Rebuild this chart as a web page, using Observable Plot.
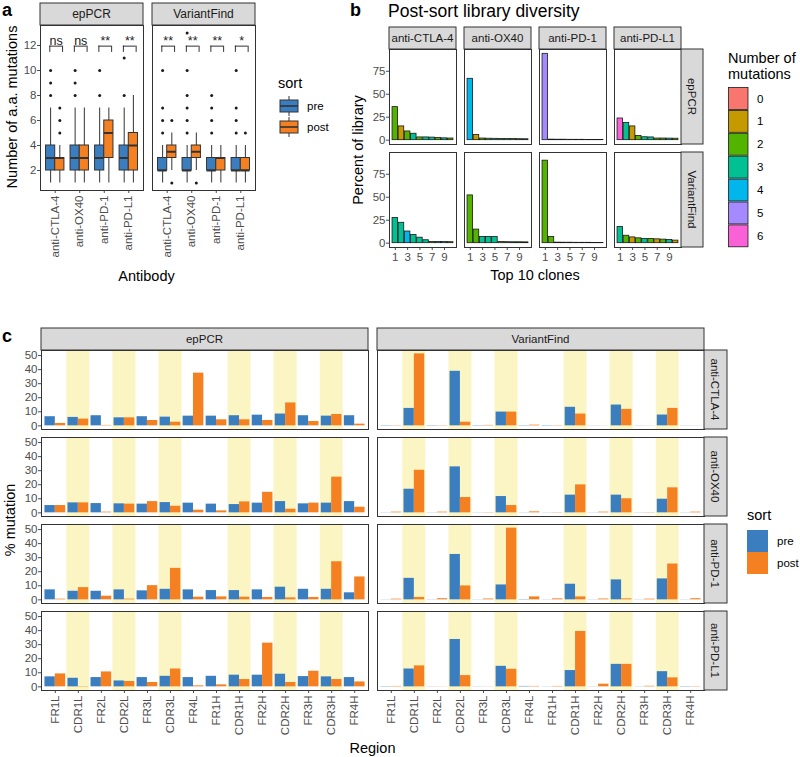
<!DOCTYPE html>
<html><head><meta charset="utf-8">
<script src="https://cdn.jsdelivr.net/npm/d3@7"></script>
<script src="https://cdn.jsdelivr.net/npm/@observablehq/plot@0.6"></script>
<style>
body{margin:0;background:#fff;}
#fig{position:relative;width:800px;height:757px;overflow:hidden;background:#fff;font-family:"Liberation Sans",Arial,Helvetica,sans-serif;}
</style></head><body><div id="fig"></div><script>
const FONT = '"Liberation Sans", Arial, Helvetica, sans-serif';

// ---------- shared ----------
const methods = ["epPCR", "VariantFind"];
const antibodies = ["anti-CTLA-4", "anti-OX40", "anti-PD-1", "anti-PD-L1"];
const sortLevels = ["pre", "post"];
const sortColors = ["#3B7EC0", "#F58021"];

// ---------- panel a : box statistics (order: method > antibody > pre,post) ----------
const boxLo  = [1,1, 1,1, 1,1, 1,1,   1,2,   1,2,   1,1, 1,1];
const boxQ1  = [2,2, 2,2, 2,3, 2,2,   2,3,   2,3,   2,2, 2,2];
const boxMed = [3,3, 3,3, 3,5, 3,4,   2,3.5, 2,3.5, 2,3, 2,2];
const boxQ3  = [4,3, 4,4, 4,6, 4,5,   3,4,   3,4,   3,3, 3,3];
const boxHi  = [7,4, 7,7, 7,7, 7,8,   4,5,   4,5,   4,4, 4,4];
const boxOutliers = [
  [8,9,10], [5,6,7], [8,9,10], [], [8,10], [], [8,11], [],
  [5,6,7,10], [1,6], [5,6,7,8,10,13], [1], [5,6,7,8], [], [5,6,7,10], [5]
];
const sigLabels = ["ns", "ns", "**", "**", "**", "**", "**", "*"];

// ---------- panel b : top-10 clones ----------
const cloneRanks = [1,2,3,4,5,6,7,8,9,10];
const divPct_epPCR = [
  [36, 15, 9.5, 7, 3, 3, 2.8, 2.5, 2, 1.8],
  [66.8, 5.7, 1.8, 1.6, 1.5, 1.4, 1.3, 1.2, 1.1, 1],
  [94, 0.6, 0.5, 0.5, 0.4, 0.4, 0.4, 0.3, 0.3, 0.3],
  [23.6, 18.6, 15, 4.6, 3.2, 3, 1.8, 1.8, 1.7, 1.6]
];
const divPct_VariantFind = [
  [27.5, 22.2, 12.7, 8.8, 6, 3.2, 1.4, 1.3, 1.2, 1.1],
  [52, 14.8, 6.7, 6.7, 6.7, 1.2, 1.1, 1, 1, 0.9],
  [89.8, 6.7, 0.6, 0.5, 0.5, 0.4, 0.4, 0.4, 0.3, 0.3],
  [17.6, 8.1, 6.3, 5.3, 4.6, 4.6, 4.2, 3.9, 3.5, 2.8]
];
const divMut_epPCR = [
  [2,1,2,3,2,3,3,2,3,2],
  [4,1,2,2,3,2,3,2,2,3],
  [5,2,3,2,4,3,2,3,2,2],
  [6,3,1,2,3,3,2,2,3,2]
];
const divMut_VariantFind = [
  [3,3,4,3,3,3,2,3,3,2],
  [2,2,3,3,3,2,2,3,2,2],
  [2,2,2,3,2,2,3,2,2,2],
  [3,2,1,2,3,2,1,2,3,1]
];
const mutLevels = [0,1,2,3,4,5,6];
const mutColors = ["#F8766D", "#C49A00", "#53B400", "#00C094", "#00B6EB", "#A58AFF", "#FB61D7"];

// ---------- panel c : % mutation by region ----------
const regions = ["FR1L","CDR1L","FR2L","CDR2L","FR3L","CDR3L","FR4L","FR1H","CDR1H","FR2H","CDR2H","FR3H","CDR3H","FR4H"];
const mutPre_epPCR = [
  [6.5,6.0,7.2,5.7,6.5,6.2,6.9,6.9,7.2,7.6,8.4,7.2,6.9,7.2],
  [5.2,7.1,6.6,6.4,6.2,7.3,6.9,6.2,5.9,6.9,8.0,6.4,6.9,8.0],
  [7.1,6.1,6.1,7.1,6.4,7.5,7.1,6.6,6.6,7.1,9.0,7.5,7.5,5.0],
  [7.1,6.1,6.6,4.2,6.6,7.5,6.6,7.5,8.3,8.3,9.0,7.3,7.1,6.6]
];
const mutPost_epPCR = [
  [1.7,4.8,0.3,5.7,3.8,2.6,37.5,4.3,4.3,3.8,16.3,3.1,8.1,1.2],
  [5.2,7.1,0.5,6.2,8.0,4.7,1.9,1.4,7.8,14.6,2.6,6.9,25.4,4.0],
  [0.5,8.7,2.6,0.5,10.1,22.4,1.9,2.1,1.9,1.7,1.4,1.7,27.1,16.3],
  [9.2,0.2,10.6,3.8,3.1,12.7,0.7,1.4,5.2,31.1,3.1,11.1,5.2,3.5]
];
const mutPre_VariantFind = [
  [0.2,12.4,0.2,38.8,0.2,9.8,0.2,0.2,13.2,0.1,14.8,0.1,7.7,0.1],
  [0.1,16.8,0.1,32.7,0.1,11.6,0.1,0.1,12.6,0.1,12.6,0.1,9.7,0.1],
  [0.1,15.3,0.1,32.3,0.1,10.6,0.2,0.1,11.1,0.1,14.2,0.1,14.9,0.1],
  [0.2,12.7,0.1,33.7,0.1,14.6,0.3,0.1,11.6,0.1,16.0,0.1,10.8,0.2]
];
const mutPost_VariantFind = [
  [0.2,51.2,0.2,2.6,0.3,9.8,0.5,0.2,8.4,0.1,11.7,0.1,12.4,0.1],
  [0.5,30.3,0.5,10.9,0.2,5.2,0.7,0.2,19.9,0.5,10.0,0.2,17.8,0.5],
  [0.5,1.7,0.8,9.9,0.6,51.0,2.1,0.7,2.1,0.6,0.7,0.5,25.5,0.8],
  [0.3,14.9,0.1,8.0,0.1,12.5,0.3,0.3,39.4,1.9,16.0,0.4,6.4,0.2]
];

// ---------- build tables ----------
const boxes = [], outliers = [];
methods.forEach((m, mi) => antibodies.forEach((ab, ai) => sortLevels.forEach((s, si) => {
  const k = mi * 8 + ai * 2 + si;
  boxes.push({method: m, ab, ai: ai + 1, sort: s, si, lo: boxLo[k], q1: boxQ1[k], med: boxMed[k], q3: boxQ3[k], hi: boxHi[k]});
  boxOutliers[k].forEach(v => outliers.push({method: m, ai: ai + 1, si, v}));
})));
const sigRows = methods.flatMap((m, mi) => antibodies.map((ab, ai) => ({method: m, ai: ai + 1, label: sigLabels[mi * 4 + ai]})));

const divTables = {epPCR: [divPct_epPCR, divMut_epPCR], VariantFind: [divPct_VariantFind, divMut_VariantFind]};
const divRows = [];
methods.forEach(m => antibodies.forEach((ab, ai) => cloneRanks.forEach((r, ri) => {
  divRows.push({method: m, ab, rank: r, pct: divTables[m][0][ai][ri], mut: divTables[m][1][ai][ri]});
})));

const mutTables = {epPCR: [mutPre_epPCR, mutPost_epPCR], VariantFind: [mutPre_VariantFind, mutPost_VariantFind]};
const cRows = [];
methods.forEach(m => antibodies.forEach((ab, ai) => sortLevels.forEach((s, si) => regions.forEach((reg, ri) => {
  cRows.push({method: m, ab, sort: s, si, region: reg, ri: ri + 1, val: mutTables[m][si][ai][ri]});
}))));
const cdrBg = regions.map((r, i) => ({region: r, ri: i + 1})).filter(d => d.region.startsWith("CDR"));

// ---------- helpers ----------
const fig = document.getElementById("fig");
function place(node, left, top) {
  node.style.position = "absolute"; node.style.left = left + "px"; node.style.top = top + "px";
  node.style.maxWidth = "none";
  fig.appendChild(node); return node;
}
const baseStyle = {fontFamily: FONT, fontSize: "11.5px", color: "#4D4D4D", background: "transparent", overflow: "visible"};
const STRIP_FILL = "#D9D9D9", STRIP_STROKE = "#333333", FRAME = "#333333";

function addTopStrips(chart, y, h, fs) {
  const fx = chart.scale("fx");
  const g = d3.select(chart).append("g");
  for (const k of fx.domain) {
    const x = fx.apply(k);
    g.append("rect").attr("x", x).attr("y", y).attr("width", fx.bandwidth).attr("height", h)
      .attr("fill", STRIP_FILL).attr("stroke", STRIP_STROKE).attr("stroke-width", 1);
    g.append("text").attr("x", x + fx.bandwidth / 2).attr("y", y + h / 2).attr("dy", "0.35em")
      .attr("text-anchor", "middle").attr("font-family", FONT).attr("font-size", fs).attr("fill", "#1A1A1A").text(k);
  }
}
function addRightStrips(chart, h, fs) {
  const fx = chart.scale("fx"), fy = chart.scale("fy");
  const xr = fx.apply(fx.domain[fx.domain.length - 1]) + fx.bandwidth;
  const g = d3.select(chart).append("g");
  for (const k of fy.domain) {
    const y = fy.apply(k);
    g.append("rect").attr("x", xr).attr("y", y).attr("width", h).attr("height", fy.bandwidth)
      .attr("fill", STRIP_FILL).attr("stroke", STRIP_STROKE).attr("stroke-width", 1);
    g.append("text").attr("transform", `translate(${xr + h / 2},${y + fy.bandwidth / 2}) rotate(90)`).attr("dy", "0.35em")
      .attr("text-anchor", "middle").attr("font-family", FONT).attr("font-size", fs).attr("fill", "#1A1A1A").text(k);
  }
}

// ---------- panel a ----------
const dodgeW = 0.375;
const bCenter = d => d.ai + (d.si - 0.5) * dodgeW;
const bLeft = d => d.ai + (d.si - 1) * dodgeW;
const bRight = d => d.ai + d.si * dodgeW;
const sigY = 11.95, sigDrop = 0.5, sigL = -0.22, sigR = 0.3;
const chartA = Plot.plot({
  width: 270, height: 290, marginTop: 25, marginBottom: 100, marginLeft: 40, marginRight: 15,
  style: baseStyle,
  fx: {domain: methods, paddingInner: 0.0804, paddingOuter: 0, axis: null, label: null},
  x: {domain: [0.4, 4.6], ticks: [1, 2, 3, 4], tickFormat: d => antibodies[d - 1], tickRotate: -90, tickSize: 3, tickPadding: 2, label: null},
  y: {domain: [0.4, 13.6], ticks: [2, 4, 6, 8, 10, 12], tickSize: 3, tickPadding: 1, label: null},
  color: {domain: sortLevels, range: sortColors},
  marks: [
    Plot.frame({stroke: FRAME, strokeWidth: 1}),
    Plot.ruleX(boxes, {fx: "method", x: bCenter, y1: "lo", y2: "q1", stroke: "#333", strokeWidth: 1}),
    Plot.ruleX(boxes, {fx: "method", x: bCenter, y1: "q3", y2: "hi", stroke: "#333", strokeWidth: 1}),
    Plot.rect(boxes, {fx: "method", x1: bLeft, x2: bRight, y1: "q1", y2: "q3", fill: "sort", stroke: "#333", strokeWidth: 1}),
    Plot.ruleY(boxes, {fx: "method", y: "med", x1: bLeft, x2: bRight, stroke: "#333", strokeWidth: 2}),
    Plot.dot(outliers, {fx: "method", x: bCenter, y: "v", r: 1.5, fill: "#1a1a1a", stroke: "none"}),
    Plot.ruleY(sigRows, {fx: "method", y: () => sigY, x1: d => d.ai + sigL, x2: d => d.ai + sigR, stroke: "#1a1a1a", strokeWidth: 0.9}),
    Plot.ruleX(sigRows, {fx: "method", x: d => d.ai + sigL, y1: () => sigY - sigDrop, y2: () => sigY, stroke: "#1a1a1a", strokeWidth: 0.9}),
    Plot.ruleX(sigRows, {fx: "method", x: d => d.ai + sigR, y1: () => sigY - sigDrop, y2: () => sigY, stroke: "#1a1a1a", strokeWidth: 0.9}),
    Plot.text(sigRows, {fx: "method", x: d => d.ai + (sigL + sigR) / 2, y: () => sigY, text: "label", lineAnchor: "bottom", dy: -1, fontSize: 12.5, fill: "#1a1a1a"})
  ]
});
place(chartA, 0, 0);
addTopStrips(chartA, 3, 22, 12);

// ---------- panel b ----------
const chartB = Plot.plot({
  width: 380, height: 285, marginTop: 49, marginBottom: 37, marginLeft: 58, marginRight: 28,
  style: baseStyle,
  fx: {domain: antibodies, paddingInner: 0.106, paddingOuter: 0, axis: null, label: null},
  fy: {domain: methods, paddingInner: 0.077, paddingOuter: 0, axis: null, label: null},
  x: {domain: [0.055, 10.945], ticks: [1, 3, 5, 7, 9], tickSize: 3, tickPadding: 2, label: null},
  y: {domain: [-4.7, 98.7], ticks: [0, 25, 50, 75], tickSize: 3, tickPadding: 1, label: null},
  color: {type: "ordinal", domain: mutLevels, range: mutColors},
  marks: [
    Plot.rect(divRows, {fx: "ab", fy: "method", x1: d => d.rank - 0.45, x2: d => d.rank + 0.45, y1: () => 0, y2: "pct", fill: "mut", stroke: "#1a1a1a", strokeWidth: 0.8}),
    Plot.frame({stroke: FRAME, strokeWidth: 1})
  ]
});
place(chartB, 330, 0);
addTopStrips(chartB, 27, 22, 11.5);
addRightStrips(chartB, 22, 11.5);

// ---------- panel c ----------
const yC = [-2.6, 53.6];
const barW = 0.45;
const chartC = Plot.plot({
  width: 740, height: 437, marginTop: 30, marginBottom: 66, marginLeft: 40, marginRight: 35,
  style: baseStyle,
  fx: {domain: methods, paddingInner: 0.0267, paddingOuter: 0, axis: null, label: null},
  fy: {domain: antibodies, paddingInner: 0.0917, paddingOuter: 0, axis: null, label: null},
  x: {domain: [0.4, 14.6], ticks: d3.range(1, 15), tickFormat: d => regions[d - 1], tickRotate: -90, tickSize: 3, tickPadding: 2, label: null},
  y: {domain: yC, ticks: [0, 10, 20, 30, 40, 50], tickSize: 3, tickPadding: 1, label: null},
  color: {domain: sortLevels, range: sortColors},
  marks: [
    Plot.rect(cdrBg, {x1: d => d.ri - 0.5, x2: d => d.ri + 0.5, y1: () => yC[0], y2: () => yC[1], fill: "#FBF5C4"}),
    Plot.rect(cRows, {fx: "method", fy: "ab", x1: d => d.ri + (d.si - 1) * barW, x2: d => d.ri + d.si * barW, y1: () => 0, y2: "val", fill: "sort"}),
    Plot.frame({stroke: FRAME, strokeWidth: 1})
  ]
});
place(chartC, 0, 320);
addTopStrips(chartC, 8, 22, 11.5);
addRightStrips(chartC, 23, 11.5);

// ---------- overlay: labels, titles, legends ----------
const ov = d3.create("svg").attr("width", 800).attr("height", 757)
  .style("position", "absolute").style("left", "0px").style("top", "0px").style("pointer-events", "none")
  .attr("font-family", FONT);
function txt(x, y, s, o = {}) {
  const t = ov.append("text").attr("x", x).attr("y", y).attr("font-size", o.fs || 14).attr("fill", o.fill || "#000")
    .attr("text-anchor", o.anchor || "start").text(s);
  if (o.bold) t.attr("font-weight", "bold");
  if (o.rot) t.attr("transform", `rotate(${o.rot},${x},${y})`);
  return t;
}
txt(2, 16, "a", {fs: 18, bold: true});
txt(350, 16, "b", {fs: 18, bold: true});
txt(2, 342, "c", {fs: 18, bold: true});
txt(388, 17, "Post-sort library diversity", {fs: 17.5});
txt(17, 107, "Number of a.a. mutations", {fs: 14.5, anchor: "middle", rot: -90});
txt(146.5, 281, "Antibody", {fs: 14.5, anchor: "middle"});
txt(363, 150, "Percent of library", {fs: 14.5, anchor: "middle", rot: -90});
txt(535, 280, "Top 10 clones", {fs: 14.5, anchor: "middle"});
txt(15, 520, "% mutation", {fs: 14.5, anchor: "middle", rot: -90});
txt(372.5, 753, "Region", {fs: 14.5, anchor: "middle"});

// legend a (box glyphs)
txt(278, 88, "sort", {fs: 14.5});
sortLevels.forEach((s, i) => {
  const y0 = 96 + i * 21, x0 = 280, w = 18;
  ov.append("line").attr("x1", x0 + w / 2).attr("x2", x0 + w / 2).attr("y1", y0).attr("y2", y0 + 20).attr("stroke", "#333");
  ov.append("rect").attr("x", x0).attr("y", y0 + 4).attr("width", w).attr("height", 12).attr("fill", sortColors[i]).attr("stroke", "#333");
  ov.append("line").attr("x1", x0).attr("x2", x0 + w).attr("y1", y0 + 10).attr("y2", y0 + 10).attr("stroke", "#333").attr("stroke-width", 1.6);
  txt(307, y0 + 14, s, {fs: 11.5});
});

// legend b
txt(728, 63, "Number of", {fs: 14.5});
txt(728, 79, "mutations", {fs: 14.5});
mutLevels.forEach((m, i) => {
  const y0 = 87 + i * 22.9;
  ov.append("rect").attr("x", 728.5).attr("y", y0 + 0.5).attr("width", 19.5).attr("height", 21.9).attr("fill", mutColors[i]).attr("stroke", "#1a1a1a").attr("stroke-width", 0.8);
  txt(757, y0 + 15.5, String(m), {fs: 11.5});
});

// legend c
txt(747, 520, "sort", {fs: 14.5});
sortLevels.forEach((s, i) => {
  const y0 = 530 + i * 22;
  ov.append("rect").attr("x", 747).attr("y", y0).attr("width", 21).attr("height", 22).attr("fill", sortColors[i]);
  txt(777, y0 + 15, s, {fs: 11.5});
});
fig.appendChild(ov.node());
</script></body></html>
